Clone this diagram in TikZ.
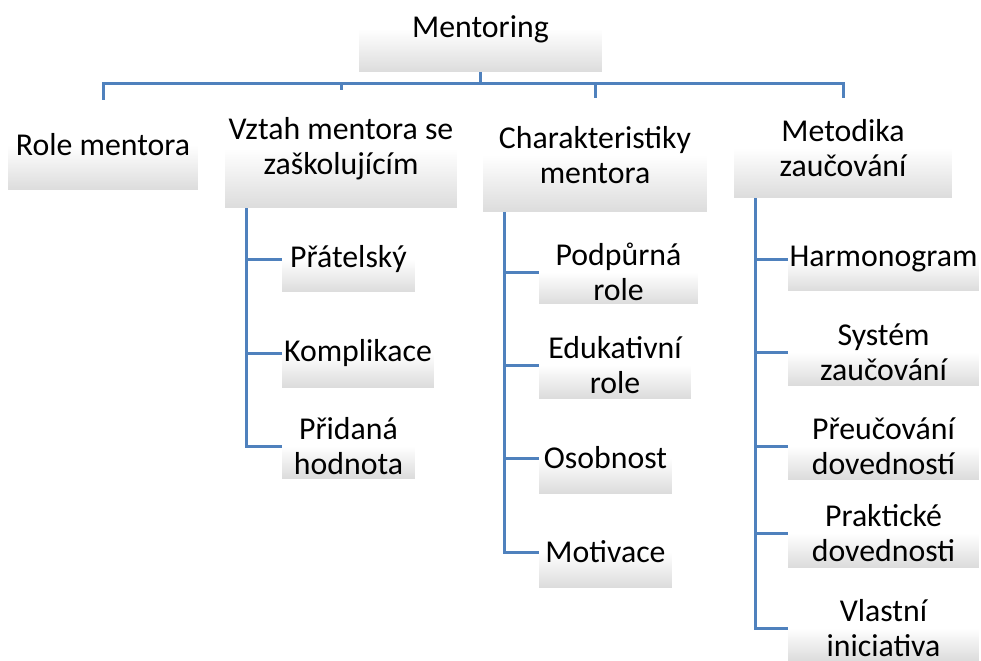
\documentclass[tikz,border=0pt]{standalone}
\usepackage{fontspec}
\setmainfont{Carlito}
\usetikzlibrary{backgrounds}
\definecolor{lineblue}{RGB}{79,129,189}
\definecolor{boxgrey}{RGB}{220,220,220}

\begin{document}
\begin{tikzpicture}[x=0.02cm,y=-0.02cm,
	every node/.style={align=center,inner sep=0pt,font=\fontsize{18.1}{19.9}\selectfont},
	box/.style={top color=white,bottom color=boxgrey,middle color=white},
	conn/.style={draw=lineblue,line width=0.06cm}]
	\useasboundingbox (0,0) rectangle (981,660);
	\clip (0,0) rectangle (981,660);
	\node[box,minimum width=4.86cm,minimum height=1.72cm](ment) at (480.5,29) {Mentoring};
	\node[box,minimum width=3.8cm,minimum height=1.8cm](rolement) at (103,145) {Role mentora};
	\node[box,minimum width=4.64cm,minimum height=2.36cm](vztah) at (341,149) {Vztah mentora se\\zaškolujícím};
	\node[box,minimum width=4.48cm,minimum height=2.28cm](charment) at (595,155) {Charakteristiky\\mentora};
	\node[box,minimum width=4.36cm,minimum height=2cm](metzauc) at (843,148) {Metodika\\zaučování};
	\node[box,minimum width=2.66cm,minimum height=1.32cm](pratel) at (348.5,259) {Přátelský};
	\node[box,minimum width=3.04cm,minimum height=1.36cm](kompl) at (358,353) {Komplikace};
	\node[box,minimum width=2.66cm,minimum height=1.28cm](pridhod) at (348.5,446) {Přidaná\\hodnota};
	\node[box,minimum width=3.18cm,minimum height=1.28cm](podprole) at (618.5,272) {Podpůrná\\role};
	\node[box,minimum width=3.04cm,minimum height=1.32cm](edukrole) at (615,365) {Edukativní\\role};
	\node[box,minimum width=2.66cm,minimum height=1.4cm](osob) at (605.5,458) {Osobnost};
	\node[box,minimum width=2.66cm,minimum height=1.4cm](motiv) at (605.5,552) {Motivace};
	\node[box,minimum width=3.82cm,minimum height=1.28cm](harmon) at (883.5,259) {Harmonogram};
	\node[box,minimum width=3.82cm,minimum height=1.32cm](systzauc) at (883.5,352) {Systém\\zaučování};
	\node[box,minimum width=3.82cm,minimum height=1.32cm](preuc) at (883.5,446) {Přeučování\\dovedností};
	\node[box,minimum width=3.82cm,minimum height=1.36cm](praktdov) at (883.5,533) {Praktické\\dovednosti};
	\node[box,minimum width=3.82cm,minimum height=1.32cm](vlastin) at (883.5,628) {Vlastní\\iniciativa};
	\coordinate (bus) at (480.5,83);
	\begin{scope}[on background layer]
		\draw[conn] (ment.south) -- (bus);
		\draw[conn] (rolement.north) |- (bus) -| (metzauc.north);
		\draw[conn] (vztah.north) -- (vztah.north |- bus);
		\draw[conn] (charment.north) -- (charment.north |- bus);
		\draw[conn] ([xshift=0.44cm]vztah.south west) |- (pratel.west);
		\draw[conn] ([xshift=0.44cm]vztah.south west) |- (kompl.west);
		\draw[conn] ([xshift=0.44cm]vztah.south west) |- (pridhod.west);
		\draw[conn] ([xshift=0.44cm]charment.south west) |- (podprole.west);
		\draw[conn] ([xshift=0.44cm]charment.south west) |- (edukrole.west);
		\draw[conn] ([xshift=0.44cm]charment.south west) |- (osob.west);
		\draw[conn] ([xshift=0.44cm]charment.south west) |- (motiv.west);
		\draw[conn] ([xshift=0.44cm]metzauc.south west) |- (harmon.west);
		\draw[conn] ([xshift=0.44cm]metzauc.south west) |- (systzauc.west);
		\draw[conn] ([xshift=0.44cm]metzauc.south west) |- (preuc.west);
		\draw[conn] ([xshift=0.44cm]metzauc.south west) |- (praktdov.west);
		\draw[conn] ([xshift=0.44cm]metzauc.south west) |- (vlastin.west);
	\end{scope}
\end{tikzpicture}
\end{document}
